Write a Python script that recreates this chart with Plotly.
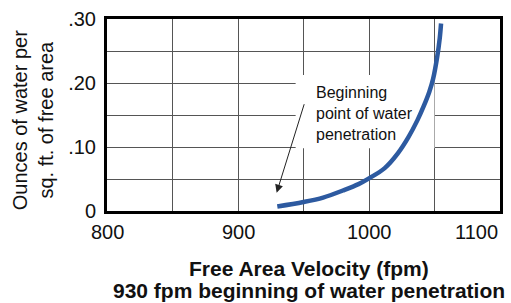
import plotly.graph_objects as go

# Data
velocity = [930, 950, 965, 980, 992, 1000, 1012, 1022, 1030, 1037, 1042, 1046, 1049, 1052, 1054, 1055]
water = [0.007, 0.014, 0.021, 0.032, 0.042, 0.051, 0.067, 0.090, 0.115, 0.142, 0.165, 0.186, 0.207, 0.240, 0.270, 0.293]

x_ticks = [800, 900, 1000, 1100]
x_tick_text = ["800", "900", "1000", "1100"]
y_ticks = [0, 0.10, 0.20, 0.30]
y_tick_text = ["0", ".10", ".20", ".30"]

note_box_x = [944, 1050]
note_box_y = [0.098, 0.2126]
arrow_tip = (929.5, 0.0286)

FONT = "Liberation Sans, Arial, sans-serif"

fig = go.Figure()
fig.add_trace(go.Scatter(
    x=velocity, y=water, mode="lines",
    line=dict(color="#2d5aa0", width=4.5, shape="spline", smoothing=1.0),
    hoverinfo="skip", showlegend=False,
))

# white box behind the note (hides grid lines but not the curve)
fig.add_shape(type="rect", xref="x", yref="y",
              x0=note_box_x[0], x1=note_box_x[1], y0=note_box_y[0], y1=note_box_y[1],
              fillcolor="white", line=dict(width=0), layer="between")

fig.add_annotation(x=958, y=0.152, xref="x", yref="y",
                   text="Beginning<br>point of water<br>penetration",
                   showarrow=False, xanchor="left", yanchor="middle", align="left",
                   font=dict(family=FONT, size=16, color="#111"))

fig.add_annotation(x=arrow_tip[0], y=arrow_tip[1], xref="x", yref="y",
                   text="", showarrow=True, arrowhead=2, arrowsize=1.6, arrowwidth=1,
                   arrowcolor="#222", ax=28, ay=-90, standoff=0)

# x tick labels (last one kept inside the figure)
for i, (v, t) in enumerate(zip(x_ticks, x_tick_text)):
    fig.add_annotation(x=v, y=0, xref="x", yref="paper", text=t, showarrow=False,
                       xanchor="right" if i == len(x_ticks) - 1 else "center",
                       yanchor="top", yshift=-8,
                       font=dict(family=FONT, size=20, color="#111"))

# x title (two lines)
fig.add_annotation(x=0.515, y=0, xref="paper", yref="paper", yshift=-57,
                   text="<b>Free Area Velocity (fpm)</b>", showarrow=False,
                   xanchor="center", yanchor="middle",
                   font=dict(family=FONT, size=21, color="#111"))
fig.add_annotation(x=0.515, y=0, xref="paper", yref="paper", yshift=-79,
                   text="<b>930 fpm beginning of water penetration</b>", showarrow=False,
                   xanchor="center", yanchor="middle",
                   font=dict(family=FONT, size=21, color="#111"))

# y title
fig.add_annotation(x=0, y=0.47, xref="paper", yref="paper", xshift=-74.5,
                   text="Ounces of water per<br>sq. ft. of free area", showarrow=False,
                   textangle=-90, xanchor="center", yanchor="middle",
                   font=dict(family=FONT, size=20, color="#111"))

fig.update_xaxes(range=[800, 1100], tickvals=x_ticks, showticklabels=False,
                 showgrid=True, gridcolor="#555", gridwidth=1,
                 minor=dict(dtick=50, showgrid=True, gridcolor="#555", gridwidth=1),
                 showline=True, linecolor="black", linewidth=3, mirror=True,
                 zeroline=False, ticks="")
fig.update_yaxes(range=[0, 0.30], tickvals=y_ticks, ticktext=y_tick_text,
                 showgrid=True, gridcolor="#555", gridwidth=1,
                 minor=dict(dtick=0.05, showgrid=True, gridcolor="#555", gridwidth=1),
                 showline=True, linecolor="black", linewidth=3, mirror=True,
                 zeroline=False, ticks="", ticklabelstandoff=4,
                 tickfont=dict(family=FONT, size=20, color="#111"))

fig.update_layout(width=511, height=303,
                  margin=dict(l=107, r=8, t=12, b=92),
                  plot_bgcolor="white", paper_bgcolor="white",
                  font=dict(family=FONT))

fig.write_html("out.html", config={"displayModeBar": False},
               post_script="document.body.style.margin='0';")
